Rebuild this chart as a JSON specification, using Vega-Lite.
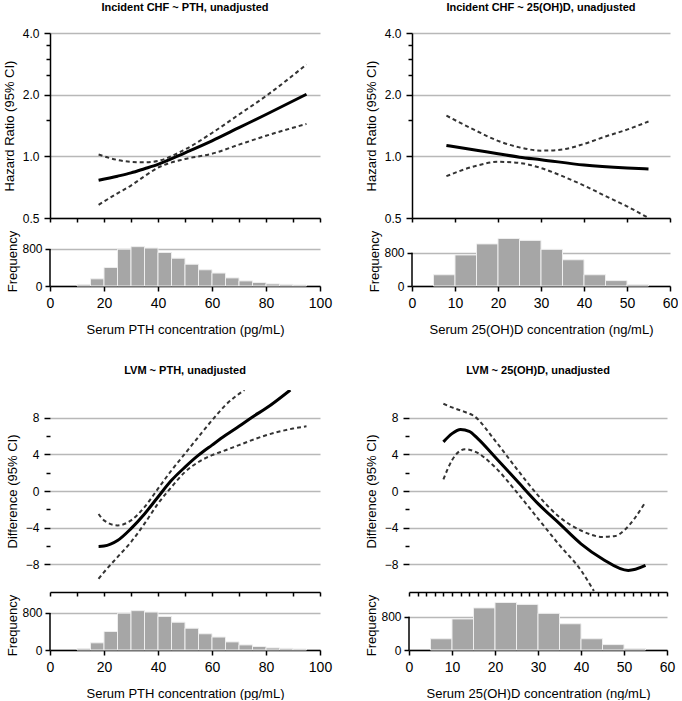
{
  "$schema": "https://vega.github.io/schema/vega-lite/v6.json",
  "padding": {"left": 3, "top": 2, "right": 0, "bottom": 0},
  "background": "white",
  "config": {
    "font": "Liberation Sans",
    "view": {"stroke": null},
    "axis": {
      "labelFontSize": 12,
      "titleFontSize": 13,
      "titleFontWeight": "normal",
      "labelColor": "#000",
      "titleColor": "#000",
      "domainColor": "#000",
      "tickColor": "#000",
      "domainWidth": 1.5,
      "tickWidth": 1.5,
      "gridColor": "#b8b8b8",
      "gridWidth": 1.5,
      "labelFlush": false,
      "labelOverlap": false
    },
    "title": {"fontSize": 11, "fontWeight": "bold", "color": "#000", "font": "Liberation Sans"}
  },
  "datasets": {
    "chf_pth": [
      {"x": 18, "y": 0.764, "series": "Estimate"},
      {"x": 25, "y": 0.80, "series": "Estimate"},
      {"x": 30, "y": 0.83, "series": "Estimate"},
      {"x": 35, "y": 0.87, "series": "Estimate"},
      {"x": 40, "y": 0.914, "series": "Estimate"},
      {"x": 50, "y": 1.04, "series": "Estimate"},
      {"x": 60, "y": 1.19, "series": "Estimate"},
      {"x": 70, "y": 1.38, "series": "Estimate"},
      {"x": 80, "y": 1.60, "series": "Estimate"},
      {"x": 95, "y": 2.01, "series": "Estimate"},
      {"x": 18, "y": 1.02, "series": "Upper"},
      {"x": 25, "y": 0.96, "series": "Upper"},
      {"x": 30, "y": 0.94, "series": "Upper"},
      {"x": 35, "y": 0.935, "series": "Upper"},
      {"x": 40, "y": 0.95, "series": "Upper"},
      {"x": 50, "y": 1.08, "series": "Upper"},
      {"x": 60, "y": 1.30, "series": "Upper"},
      {"x": 70, "y": 1.60, "series": "Upper"},
      {"x": 80, "y": 1.97, "series": "Upper"},
      {"x": 95, "y": 2.81, "series": "Upper"},
      {"x": 18, "y": 0.58, "series": "Lower"},
      {"x": 25, "y": 0.66, "series": "Lower"},
      {"x": 30, "y": 0.72, "series": "Lower"},
      {"x": 35, "y": 0.80, "series": "Lower"},
      {"x": 40, "y": 0.88, "series": "Lower"},
      {"x": 50, "y": 0.97, "series": "Lower"},
      {"x": 60, "y": 1.03, "series": "Lower"},
      {"x": 70, "y": 1.14, "series": "Lower"},
      {"x": 80, "y": 1.26, "series": "Lower"},
      {"x": 95, "y": 1.44, "series": "Lower"}
    ],
    "chf_vitd": [
      {"x": 8, "y": 1.13, "series": "Estimate"},
      {"x": 15, "y": 1.07, "series": "Estimate"},
      {"x": 20, "y": 1.03, "series": "Estimate"},
      {"x": 25, "y": 0.99, "series": "Estimate"},
      {"x": 30, "y": 0.963, "series": "Estimate"},
      {"x": 40, "y": 0.907, "series": "Estimate"},
      {"x": 50, "y": 0.877, "series": "Estimate"},
      {"x": 55, "y": 0.867, "series": "Estimate"},
      {"x": 8, "y": 1.58, "series": "Upper"},
      {"x": 15, "y": 1.33, "series": "Upper"},
      {"x": 20, "y": 1.19, "series": "Upper"},
      {"x": 25, "y": 1.106, "series": "Upper"},
      {"x": 30, "y": 1.066, "series": "Upper"},
      {"x": 35, "y": 1.08, "series": "Upper"},
      {"x": 40, "y": 1.15, "series": "Upper"},
      {"x": 45, "y": 1.25, "series": "Upper"},
      {"x": 50, "y": 1.35, "series": "Upper"},
      {"x": 55, "y": 1.48, "series": "Upper"},
      {"x": 8, "y": 0.80, "series": "Lower"},
      {"x": 15, "y": 0.90, "series": "Lower"},
      {"x": 20, "y": 0.94, "series": "Lower"},
      {"x": 25, "y": 0.928, "series": "Lower"},
      {"x": 30, "y": 0.877, "series": "Lower"},
      {"x": 35, "y": 0.80, "series": "Lower"},
      {"x": 40, "y": 0.72, "series": "Lower"},
      {"x": 45, "y": 0.64, "series": "Lower"},
      {"x": 50, "y": 0.57, "series": "Lower"},
      {"x": 55, "y": 0.50, "series": "Lower"}
    ],
    "lvm_pth": [
      {"x": 18, "y": -6.04, "series": "Estimate"},
      {"x": 20, "y": -6.0, "series": "Estimate"},
      {"x": 25, "y": -5.4, "series": "Estimate"},
      {"x": 30, "y": -4.1, "series": "Estimate"},
      {"x": 35, "y": -2.5, "series": "Estimate"},
      {"x": 40, "y": -0.65, "series": "Estimate"},
      {"x": 45, "y": 1.16, "series": "Estimate"},
      {"x": 50, "y": 2.6, "series": "Estimate"},
      {"x": 55, "y": 3.9, "series": "Estimate"},
      {"x": 60, "y": 5.0, "series": "Estimate"},
      {"x": 65, "y": 6.07, "series": "Estimate"},
      {"x": 70, "y": 7.05, "series": "Estimate"},
      {"x": 75, "y": 8.07, "series": "Estimate"},
      {"x": 80, "y": 9.0, "series": "Estimate"},
      {"x": 89, "y": 11.0, "series": "Estimate"},
      {"x": 18, "y": -2.5, "series": "Upper"},
      {"x": 20, "y": -3.2, "series": "Upper"},
      {"x": 25, "y": -3.75, "series": "Upper"},
      {"x": 30, "y": -3.2, "series": "Upper"},
      {"x": 35, "y": -1.75, "series": "Upper"},
      {"x": 40, "y": 0.25, "series": "Upper"},
      {"x": 45, "y": 2.25, "series": "Upper"},
      {"x": 50, "y": 4.07, "series": "Upper"},
      {"x": 55, "y": 5.9, "series": "Upper"},
      {"x": 60, "y": 7.7, "series": "Upper"},
      {"x": 65, "y": 9.35, "series": "Upper"},
      {"x": 72, "y": 11.0, "series": "Upper"},
      {"x": 18, "y": -9.56, "series": "Lower"},
      {"x": 20, "y": -8.84, "series": "Lower"},
      {"x": 25, "y": -7.2, "series": "Lower"},
      {"x": 30, "y": -5.56, "series": "Lower"},
      {"x": 35, "y": -3.56, "series": "Lower"},
      {"x": 40, "y": -1.38, "series": "Lower"},
      {"x": 45, "y": 0.44, "series": "Lower"},
      {"x": 50, "y": 2.07, "series": "Lower"},
      {"x": 55, "y": 3.16, "series": "Lower"},
      {"x": 60, "y": 3.9, "series": "Lower"},
      {"x": 65, "y": 4.44, "series": "Lower"},
      {"x": 70, "y": 5.0, "series": "Lower"},
      {"x": 80, "y": 6.07, "series": "Lower"},
      {"x": 90, "y": 6.8, "series": "Lower"},
      {"x": 95, "y": 7.05, "series": "Lower"}
    ],
    "lvm_vitd": [
      {"x": 8, "y": 5.35, "series": "Estimate"},
      {"x": 10, "y": 6.25, "series": "Estimate"},
      {"x": 12, "y": 6.7, "series": "Estimate"},
      {"x": 14, "y": 6.5, "series": "Estimate"},
      {"x": 16, "y": 5.7, "series": "Estimate"},
      {"x": 20, "y": 3.7, "series": "Estimate"},
      {"x": 25, "y": 1.16, "series": "Estimate"},
      {"x": 30, "y": -1.38, "series": "Estimate"},
      {"x": 35, "y": -3.56, "series": "Estimate"},
      {"x": 40, "y": -5.75, "series": "Estimate"},
      {"x": 45, "y": -7.4, "series": "Estimate"},
      {"x": 51, "y": -8.65, "series": "Estimate"},
      {"x": 55, "y": -8.1, "series": "Estimate"},
      {"x": 8, "y": 9.5, "series": "Upper"},
      {"x": 10, "y": 9.1, "series": "Upper"},
      {"x": 13, "y": 8.6, "series": "Upper"},
      {"x": 15, "y": 8.2, "series": "Upper"},
      {"x": 20, "y": 5.5, "series": "Upper"},
      {"x": 25, "y": 2.44, "series": "Upper"},
      {"x": 30, "y": -0.47, "series": "Upper"},
      {"x": 35, "y": -2.84, "series": "Upper"},
      {"x": 40, "y": -4.3, "series": "Upper"},
      {"x": 45, "y": -5.0, "series": "Upper"},
      {"x": 48, "y": -4.9, "series": "Upper"},
      {"x": 50, "y": -4.3, "series": "Upper"},
      {"x": 55, "y": -1.2, "series": "Upper"},
      {"x": 8, "y": 1.27, "series": "Lower"},
      {"x": 10, "y": 3.35, "series": "Lower"},
      {"x": 13, "y": 4.55, "series": "Lower"},
      {"x": 15, "y": 4.36, "series": "Lower"},
      {"x": 20, "y": 2.6, "series": "Lower"},
      {"x": 25, "y": -0.1, "series": "Lower"},
      {"x": 30, "y": -3.0, "series": "Lower"},
      {"x": 35, "y": -5.9, "series": "Lower"},
      {"x": 40, "y": -8.65, "series": "Lower"},
      {"x": 43, "y": -10.9, "series": "Lower"}
    ],
    "hist_pth": [
      {"bin_start": 10, "bin_end": 15, "count": 30},
      {"bin_start": 15, "bin_end": 20, "count": 155},
      {"bin_start": 20, "bin_end": 25, "count": 400},
      {"bin_start": 25, "bin_end": 30, "count": 795},
      {"bin_start": 30, "bin_end": 35, "count": 850},
      {"bin_start": 35, "bin_end": 40, "count": 820},
      {"bin_start": 40, "bin_end": 45, "count": 725},
      {"bin_start": 45, "bin_end": 50, "count": 600},
      {"bin_start": 50, "bin_end": 55, "count": 470},
      {"bin_start": 55, "bin_end": 60, "count": 350},
      {"bin_start": 60, "bin_end": 65, "count": 280},
      {"bin_start": 65, "bin_end": 70, "count": 175},
      {"bin_start": 70, "bin_end": 75, "count": 110},
      {"bin_start": 75, "bin_end": 80, "count": 75},
      {"bin_start": 80, "bin_end": 85, "count": 45},
      {"bin_start": 85, "bin_end": 90, "count": 35},
      {"bin_start": 90, "bin_end": 95, "count": 22}
    ],
    "hist_vitd": [
      {"bin_start": 5, "bin_end": 10, "count": 270},
      {"bin_start": 10, "bin_end": 15, "count": 745},
      {"bin_start": 15, "bin_end": 20, "count": 1010},
      {"bin_start": 20, "bin_end": 25, "count": 1140},
      {"bin_start": 25, "bin_end": 30, "count": 1095},
      {"bin_start": 30, "bin_end": 35, "count": 880},
      {"bin_start": 35, "bin_end": 40, "count": 630},
      {"bin_start": 40, "bin_end": 45, "count": 270},
      {"bin_start": 45, "bin_end": 50, "count": 130},
      {"bin_start": 50, "bin_end": 55, "count": 35}
    ]
  },
  "spacing": 29,
  "vconcat": [
    {
      "spacing": 33,
      "hconcat": [
        {
          "spacing": 6,
          "vconcat": [
            {
              "title": {"text": "Incident CHF ~ PTH, unadjusted", "offset": 14},
              "width": 270,
              "height": 185,
              "data": {"name": "chf_pth"},
              "encoding": {
                "x": {"field": "x", "type": "quantitative", "scale": {"domain": [0, 100], "nice": false}, "axis": {"values": [0, 10, 20, 30, 40, 50, 60, 70, 80, 90, 100], "labels": false, "title": null, "grid": false, "tickSize": 4}},
                "y": {"field": "y", "type": "quantitative", "scale": {"type": "log", "domain": [0.5, 4], "nice": false}, "axis": {"title": "Hazard Ratio (95% CI)", "values": [0.5, 1, 1.5, 2, 2.5, 3, 3.5, 4], "labelExpr": "indexof([0.5,1,2,4], datum.value) >= 0 ? format(datum.value, '.1f') : ''", "tickSize": {"condition": {"test": "indexof([0.5,1,2,4], datum.value) >= 0", "value": 6}, "value": 4}, "gridOpacity": {"condition": {"test": "indexof([0.5,1,2,4], datum.value) >= 0", "value": 1}, "value": 0}, "grid": true, "labelPadding": 5, "titlePadding": 6}}
              },
              "layer": [
                {"transform": [{"filter": "datum.series === 'Estimate'"}], "mark": {"type": "line", "color": "#000", "strokeWidth": 3, "interpolate": "monotone", "clip": true}},
                {"transform": [{"filter": "datum.series !== 'Estimate'"}], "mark": {"type": "line", "color": "#333", "strokeWidth": 2, "strokeDash": [4, 3], "interpolate": "monotone", "clip": true}, "encoding": {"detail": {"field": "series"}}}
              ]
            },
            {
              "width": 270,
              "height": 50,
              "data": {"name": "hist_pth"},
              "layer": [
                {
                  "mark": {"type": "bar", "color": "#a6a6a6", "stroke": "#eeeeee", "strokeWidth": 1},
                  "encoding": {
                    "x": {"field": "bin_start", "type": "quantitative", "scale": {"domain": [0, 100], "nice": false}, "axis": {"values": [0, 10, 20, 30, 40, 50, 60, 70, 80, 90, 100], "labelExpr": "datum.value % 20 === 0 ? datum.label : ''", "title": "Serum PTH concentration (pg/mL)", "grid": false, "tickSize": 5, "labelPadding": 5, "titlePadding": 13, "labelFontSize": 14}},
                    "x2": {"field": "bin_end"},
                    "y": {"field": "count", "type": "quantitative", "scale": {"domain": [0, 1080], "nice": false}, "axis": {"values": [0, 400, 800], "title": "Frequency", "domain": false, "grid": true, "tickSize": 5, "labelPadding": 3, "titlePadding": 2}},
                    "y2": {"datum": 0}
                  }
                },
                {"data": {"values": [{}]}, "mark": {"type": "rule", "color": "#000", "strokeWidth": 1.5}, "encoding": {"x": {"datum": 0, "type": "quantitative"}, "y": {"datum": 0, "type": "quantitative"}, "y2": {"datum": 800}}}
              ]
            }
          ]
        },
        {
          "spacing": 6,
          "vconcat": [
            {
              "title": {"text": "Incident CHF ~ 25(OH)D, unadjusted", "offset": 14},
              "width": 258,
              "height": 185,
              "data": {"name": "chf_vitd"},
              "encoding": {
                "x": {"field": "x", "type": "quantitative", "scale": {"domain": [0, 60], "nice": false}, "axis": {"values": [0, 10, 20, 30, 40, 50, 60], "labels": false, "title": null, "grid": false, "tickSize": 4}},
                "y": {"field": "y", "type": "quantitative", "scale": {"type": "log", "domain": [0.5, 4], "nice": false}, "axis": {"title": "Hazard Ratio (95% CI)", "values": [0.5, 1, 1.5, 2, 2.5, 3, 3.5, 4], "labelExpr": "indexof([0.5,1,2,4], datum.value) >= 0 ? format(datum.value, '.1f') : ''", "tickSize": {"condition": {"test": "indexof([0.5,1,2,4], datum.value) >= 0", "value": 6}, "value": 4}, "gridOpacity": {"condition": {"test": "indexof([0.5,1,2,4], datum.value) >= 0", "value": 1}, "value": 0}, "grid": true, "labelPadding": 5, "titlePadding": 6}}
              },
              "layer": [
                {"transform": [{"filter": "datum.series === 'Estimate'"}], "mark": {"type": "line", "color": "#000", "strokeWidth": 3, "interpolate": "monotone", "clip": true}},
                {"transform": [{"filter": "datum.series !== 'Estimate'"}], "mark": {"type": "line", "color": "#333", "strokeWidth": 2, "strokeDash": [4, 3], "interpolate": "monotone", "clip": true}, "encoding": {"detail": {"field": "series"}}}
              ]
            },
            {
              "width": 258,
              "height": 50,
              "data": {"name": "hist_vitd"},
              "layer": [
                {
                  "mark": {"type": "bar", "color": "#a6a6a6", "stroke": "#eeeeee", "strokeWidth": 1},
                  "encoding": {
                    "x": {"field": "bin_start", "type": "quantitative", "scale": {"domain": [0, 60], "nice": false}, "axis": {"values": [0, 10, 20, 30, 40, 50, 60], "title": "Serum 25(OH)D concentration (ng/mL)", "grid": false, "tickSize": 5, "labelPadding": 5, "titlePadding": 13, "labelFontSize": 14}},
                    "x2": {"field": "bin_end"},
                    "y": {"field": "count", "type": "quantitative", "scale": {"domain": [0, 1200], "nice": false}, "axis": {"values": [0, 400, 800], "title": "Frequency", "domain": false, "grid": true, "tickSize": 5, "labelPadding": 3, "titlePadding": 2}},
                    "y2": {"datum": 0}
                  }
                },
                {"data": {"values": [{}]}, "mark": {"type": "rule", "color": "#000", "strokeWidth": 1.5}, "encoding": {"x": {"datum": 0, "type": "quantitative"}, "y": {"datum": 0, "type": "quantitative"}, "y2": {"datum": 800}}}
              ]
            }
          ]
        }
      ]
    },
    {
      "spacing": 33,
      "hconcat": [
        {
          "spacing": -3,
          "vconcat": [
            {
              "title": {"text": "LVM ~ PTH, unadjusted", "offset": 14},
              "width": 270,
              "height": 202,
              "data": {"name": "lvm_pth"},
              "encoding": {
                "x": {"field": "x", "type": "quantitative", "scale": {"domain": [0, 100], "nice": false}, "axis": {"values": [0, 10, 20, 30, 40, 50, 60, 70, 80, 90, 100], "labels": false, "title": null, "grid": false, "tickSize": 4}},
                "y": {"field": "y", "type": "quantitative", "scale": {"domain": [-11, 11], "nice": false, "zero": false}, "axis": {"title": "Difference (95% CI)", "values": [-8, -6, -4, -2, 0, 2, 4, 6, 8], "labelExpr": "datum.value % 4 === 0 ? datum.label : ''", "tickSize": {"condition": {"test": "datum.value % 4 === 0", "value": 6}, "value": 4}, "gridOpacity": {"condition": {"test": "datum.value % 4 === 0", "value": 1}, "value": 0}, "grid": true, "domain": false, "labelPadding": 5, "titlePadding": 6}}
              },
              "layer": [
                {"transform": [{"filter": "datum.series === 'Estimate'"}], "mark": {"type": "line", "color": "#000", "strokeWidth": 3, "interpolate": "monotone", "clip": true}},
                {"transform": [{"filter": "datum.series !== 'Estimate'"}], "mark": {"type": "line", "color": "#333", "strokeWidth": 2, "strokeDash": [4, 3], "interpolate": "monotone", "clip": true}, "encoding": {"detail": {"field": "series"}}},
                {"data": {"values": [{}]}, "mark": {"type": "rule", "color": "#000", "strokeWidth": 1.5}, "encoding": {"x": {"datum": 0, "type": "quantitative"}, "y": {"datum": -8, "type": "quantitative"}, "y2": {"datum": 8}}}
              ]
            },
            {
              "width": 270,
              "height": 50,
              "data": {"name": "hist_pth"},
              "layer": [
                {
                  "mark": {"type": "bar", "color": "#a6a6a6", "stroke": "#eeeeee", "strokeWidth": 1},
                  "encoding": {
                    "x": {"field": "bin_start", "type": "quantitative", "scale": {"domain": [0, 100], "nice": false}, "axis": {"values": [0, 10, 20, 30, 40, 50, 60, 70, 80, 90, 100], "labelExpr": "datum.value % 20 === 0 ? datum.label : ''", "title": "Serum PTH concentration (pg/mL)", "grid": false, "tickSize": 5, "labelPadding": 5, "titlePadding": 13, "labelFontSize": 14}},
                    "x2": {"field": "bin_end"},
                    "y": {"field": "count", "type": "quantitative", "scale": {"domain": [0, 1080], "nice": false}, "axis": {"values": [0, 400, 800], "title": "Frequency", "domain": false, "grid": true, "tickSize": 5, "labelPadding": 3, "titlePadding": 2}},
                    "y2": {"datum": 0}
                  }
                },
                {"data": {"values": [{}]}, "mark": {"type": "rule", "color": "#000", "strokeWidth": 1.5}, "encoding": {"x": {"datum": 0, "type": "quantitative"}, "y": {"datum": 0, "type": "quantitative"}, "y2": {"datum": 800}}}
              ]
            }
          ]
        },
        {
          "spacing": -3,
          "vconcat": [
            {
              "title": {"text": "LVM ~ 25(OH)D, unadjusted", "offset": 14},
              "width": 258,
              "height": 202,
              "data": {"name": "lvm_vitd"},
              "encoding": {
                "x": {"field": "x", "type": "quantitative", "scale": {"domain": [0, 60], "nice": false}, "axis": {"values": [0, 2, 4, 6, 8, 10, 12, 14, 16, 18, 20, 22, 24, 26, 28, 30, 32, 34, 36, 38, 40, 42, 44, 46, 48, 50, 52, 54, 56, 58, 60], "labels": false, "title": null, "grid": false, "tickSize": 4}},
                "y": {"field": "y", "type": "quantitative", "scale": {"domain": [-11, 11], "nice": false, "zero": false}, "axis": {"title": "Difference (95% CI)", "values": [-8, -6, -4, -2, 0, 2, 4, 6, 8], "labelExpr": "datum.value % 4 === 0 ? datum.label : ''", "tickSize": {"condition": {"test": "datum.value % 4 === 0", "value": 6}, "value": 4}, "gridOpacity": {"condition": {"test": "datum.value % 4 === 0", "value": 1}, "value": 0}, "grid": true, "domain": false, "labelPadding": 5, "titlePadding": 6}}
              },
              "layer": [
                {"transform": [{"filter": "datum.series === 'Estimate'"}], "mark": {"type": "line", "color": "#000", "strokeWidth": 3, "interpolate": "monotone", "clip": true}},
                {"transform": [{"filter": "datum.series !== 'Estimate'"}], "mark": {"type": "line", "color": "#333", "strokeWidth": 2, "strokeDash": [4, 3], "interpolate": "monotone", "clip": true}, "encoding": {"detail": {"field": "series"}}},
                {"data": {"values": [{}]}, "mark": {"type": "rule", "color": "#000", "strokeWidth": 1.5}, "encoding": {"x": {"datum": 0, "type": "quantitative"}, "y": {"datum": -8, "type": "quantitative"}, "y2": {"datum": 8}}}
              ]
            },
            {
              "width": 258,
              "height": 50,
              "data": {"name": "hist_vitd"},
              "layer": [
                {
                  "mark": {"type": "bar", "color": "#a6a6a6", "stroke": "#eeeeee", "strokeWidth": 1},
                  "encoding": {
                    "x": {"field": "bin_start", "type": "quantitative", "scale": {"domain": [0, 60], "nice": false}, "axis": {"values": [0, 10, 20, 30, 40, 50, 60], "title": "Serum 25(OH)D concentration (ng/mL)", "grid": false, "tickSize": 5, "labelPadding": 5, "titlePadding": 13, "labelFontSize": 14}},
                    "x2": {"field": "bin_end"},
                    "y": {"field": "count", "type": "quantitative", "scale": {"domain": [0, 1200], "nice": false}, "axis": {"values": [0, 400, 800], "title": "Frequency", "domain": false, "grid": true, "tickSize": 5, "labelPadding": 3, "titlePadding": 2}},
                    "y2": {"datum": 0}
                  }
                },
                {"data": {"values": [{}]}, "mark": {"type": "rule", "color": "#000", "strokeWidth": 1.5}, "encoding": {"x": {"datum": 0, "type": "quantitative"}, "y": {"datum": 0, "type": "quantitative"}, "y2": {"datum": 800}}}
              ]
            }
          ]
        }
      ]
    }
  ]
}
